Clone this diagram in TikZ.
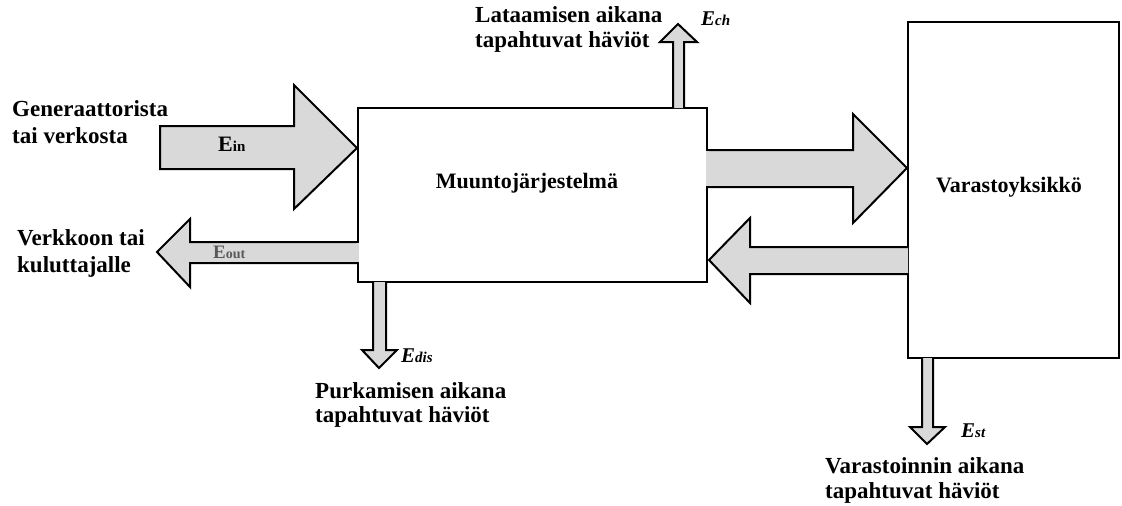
\documentclass[tikz,border=0pt]{standalone}
\usepackage{fontspec}
\setmainfont{Liberation Serif}
\begin{document}
\begin{tikzpicture}[x=1pt,y=-1pt,
  blk/.style={draw=black,line width=2.2pt,fill=white},
  flow/.style={draw=black,line width=2pt,fill=black!15,line join=miter},
  lbl/.style={inner sep=0pt,align=left,anchor=base west},
  sym/.style={inner sep=0pt,anchor=base west},
  boxtxt/.style={inner sep=0pt,anchor=base,font=\bfseries\fontsize{22}{26}\selectfont}]
\useasboundingbox (0,0) rectangle (1122,506);
% boxes
\draw[blk] (358,108) rectangle (707,282);
\draw[blk] (908,22) rectangle (1119,358);
\node[boxtxt] (conv) at (527,188) {Muuntojärjestelmä};
\node[boxtxt] (store) at (1009,192) {Varastoyksikkö};
% Ein arrow
\draw[flow] (160,126) -- (294,126) -- (294,85) -- (357,148) -- (294,209) -- (294,169) -- (160,169) -- cycle;
% Eout arrow
\draw[flow] (358,242) -- (190,242) -- (190,219) -- (157,252) -- (190,287) -- (190,263) -- (358,263);
\fill[black!15] (356,243) rectangle (359,262);
% to storage
\draw[flow] (707,150) -- (853,150) -- (853,114) -- (907,168) -- (853,223) -- (853,187) -- (707,187);
\fill[black!15] (706,151) rectangle (709,186);
% back from storage
\draw[flow] (908,247) -- (750,247) -- (750,218) -- (709,260) -- (750,303) -- (750,274) -- (908,274);
% Ech
\draw[flow] (673,108) -- (673,42) -- (660,42) -- (678,24) -- (697,42) -- (684,42) -- (684,108);
% Edis
\draw[flow] (373,282) -- (373,350) -- (362,350) -- (379,368) -- (397,350) -- (386,350) -- (386,282);
% Est
\draw[flow] (922,358) -- (922,427) -- (910,427) -- (927,444) -- (945,427) -- (933,427) -- (933,358);
% labels (anchor at baseline of last line)
\node[lbl,font=\bfseries\fontsize{23}{27}\selectfont] (gen) at (12,143) {Generaattorista\\tai verkosta};
\node[lbl,font=\bfseries\fontsize{23}{27}\selectfont] (verk) at (17,272) {Verkkoon tai\\kuluttajalle};
\node[lbl,font=\bfseries\fontsize{23}{25}\selectfont] (lat) at (475,47) {Lataamisen aikana\\tapahtuvat häviöt};
\node[lbl,font=\bfseries\fontsize{23}{24}\selectfont] (purk) at (315,422) {Purkamisen aikana\\tapahtuvat häviöt};
\node[lbl,font=\bfseries\fontsize{23}{25}\selectfont] (var) at (825,498) {Varastoinnin aikana\\tapahtuvat häviöt};
% symbols
\node[sym] (ein) at (218,151) {\bfseries\fontsize{22}{22}\selectfont E\fontsize{15}{15}\selectfont in};
\node[sym,text=black!65] (eout) at (213,258) {\bfseries\fontsize{19}{19}\selectfont E\fontsize{14}{14}\selectfont out};
\node[sym] (ech) at (701,25) {\bfseries\itshape\fontsize{21}{21}\selectfont E\fontsize{15}{15}\selectfont ch};
\node[sym] (edis) at (401,362) {\bfseries\itshape\fontsize{21}{21}\selectfont E\fontsize{15}{15}\selectfont dis};
\node[sym] (est) at (961,437) {\bfseries\itshape\fontsize{21}{21}\selectfont E\fontsize{15}{15}\selectfont st};
\end{tikzpicture}
\end{document}
